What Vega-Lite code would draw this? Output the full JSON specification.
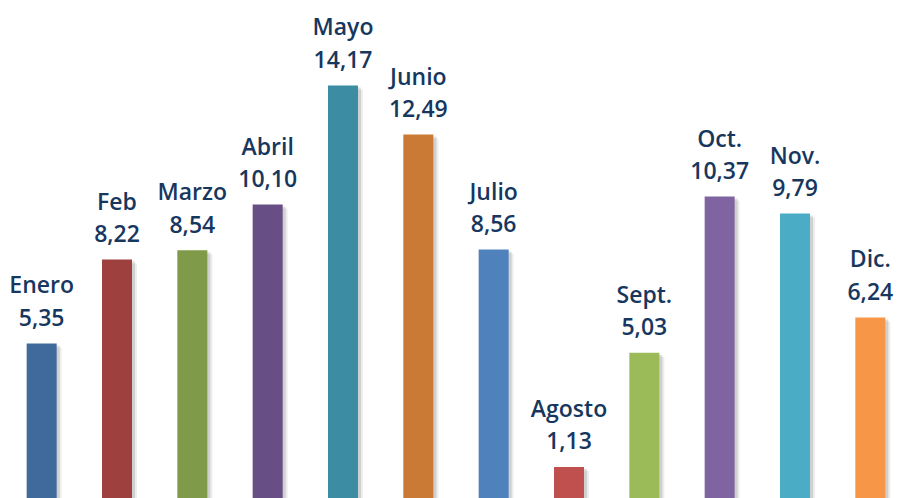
{
  "$schema": "https://vega.github.io/schema/vega-lite/v6.json",
  "width": 904,
  "height": 500,
  "padding": {"left": 4, "top": 0, "right": 0, "bottom": 0},
  "autosize": {"type": "none"},
  "background": "#ffffff",
  "config": {
    "view": {"stroke": null},
    "locale": {"number": {"decimal": ",", "thousands": ".", "grouping": [3], "currency": ["", " €"]}}
  },
  "data": {
    "values": [
      {"mes": "Enero", "valor": 5.35, "color": "#3F6A9B"},
      {"mes": "Feb", "valor": 8.22, "color": "#9D403E"},
      {"mes": "Marzo", "valor": 8.54, "color": "#7F9A48"},
      {"mes": "Abril", "valor": 10.10, "color": "#674E84"},
      {"mes": "Mayo", "valor": 14.17, "color": "#3C8CA3"},
      {"mes": "Junio", "valor": 12.49, "color": "#CB7A36"},
      {"mes": "Julio", "valor": 8.56, "color": "#4F81BD"},
      {"mes": "Agosto", "valor": 1.13, "color": "#C0504D"},
      {"mes": "Sept.", "valor": 5.03, "color": "#9BBB59"},
      {"mes": "Oct.", "valor": 10.37, "color": "#8064A2"},
      {"mes": "Nov.", "valor": 9.79, "color": "#4BACC6"},
      {"mes": "Dic.", "valor": 6.24, "color": "#F79646"}
    ]
  },
  "encoding": {
    "x": {"field": "mes", "type": "nominal", "sort": null, "axis": null,
          "scale": {"paddingInner": 0, "paddingOuter": 0}},
    "y": {"field": "valor", "type": "quantitative", "axis": null,
          "scale": {"domain": [0, 17.09], "nice": false, "zero": true}}
  },
  "layer": [
    {"mark": {"type": "bar", "size": 30, "color": "#000000", "opacity": 0.07, "xOffset": 5, "yOffset": 4}},
    {"mark": {"type": "bar", "size": 30, "color": "#000000", "opacity": 0.12, "xOffset": 3, "yOffset": 2}},
    {"mark": {"type": "bar", "size": 30},
     "encoding": {"color": {"field": "color", "type": "nominal", "scale": null, "legend": null}}},
    {"mark": {"type": "text", "font": "Open Sans", "fontWeight": 600, "fontSize": 23, "color": "#17375E", "baseline": "alphabetic", "dy": -17.5},
     "encoding": {"text": {"field": "valor", "type": "quantitative", "format": ".2f"}}},
    {"mark": {"type": "text", "font": "Open Sans", "fontWeight": 600, "fontSize": 23, "color": "#17375E", "baseline": "alphabetic", "dy": -50},
     "encoding": {"text": {"field": "mes", "type": "nominal"}}}
  ]
}
